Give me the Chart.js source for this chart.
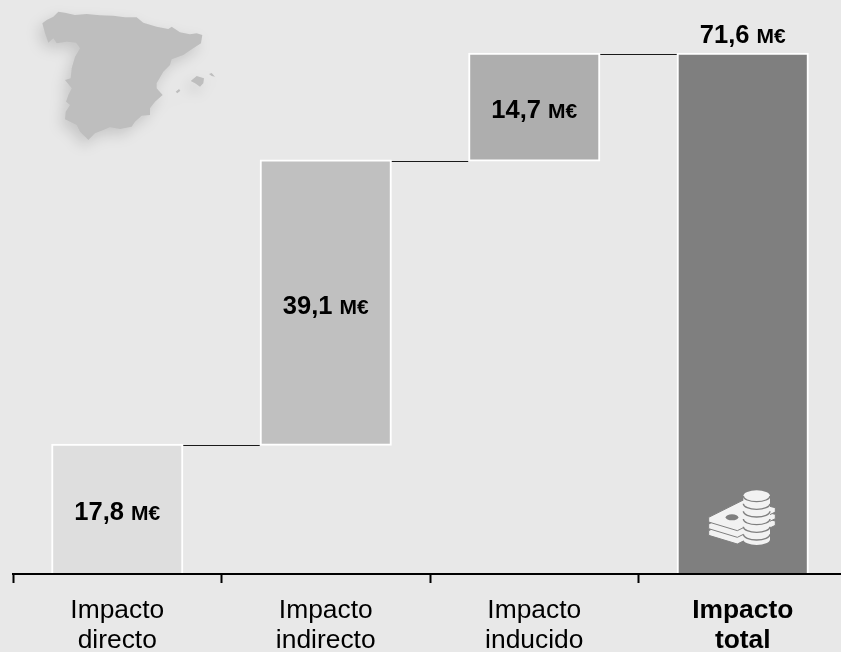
<!DOCTYPE html>
<html lang="es">
<head>
<meta charset="utf-8">
<title>Impacto</title>
<script src="https://cdn.jsdelivr.net/npm/chart.js@4"></script>
<style>
html,body{margin:0;padding:0;background:#e8e8e8;width:841px;height:652px;overflow:hidden}
canvas{display:block}
</style>
</head>
<body>
<canvas id="c" width="860" height="652"></canvas>
<script>
const categories = [["Impacto","directo"],["Impacto","indirecto"],["Impacto","inducido"],["Impacto","total"]];
const barStarts = [0, 17.8, 56.9, 0];
const barEnds = [17.8, 56.9, 71.6, 71.6];
const valueLabels = ["17,8", "39,1", "14,7", "71,6"];
const unitLabel = "M€";
const barColors = ["#dedede", "#c0c0c0", "#aeaeae", "#7f7f7f"];
const FONT = '"Liberation Sans", Arial, sans-serif';

const mapMain = [[127,70],[140,60],[160,50],[175,35],[195,38],[225,45],[260,42],[300,46],[340,47],[375,52],[410,52],[430,68],[470,80],[505,87],[515,80],[540,97],[570,103],[590,100],[607,105],[603,130],[580,145],[550,165],[515,178],[510,195],[490,215],[470,250],[470,265],[488,285],[465,305],[450,325],[450,345],[425,347],[405,365],[395,380],[360,387],[330,382],[310,390],[285,400],[265,420],[240,395],[230,375],[195,358],[197,335],[210,315],[198,305],[205,285],[215,265],[195,240],[212,235],[215,205],[225,170],[240,145],[228,128],[200,125],[170,130],[160,115],[145,128],[135,100]];
const mapIslands = [
  [[572,243],[590,228],[612,235],[610,250],[600,260],[585,250]],
  [[627,222],[635,219],[645,230],[635,228]],
  [[527,275],[537,267],[541,272],[532,280]]
];

function poly(ctx, pts, s){
  ctx.moveTo(pts[0][0]*s, pts[0][1]*s);
  pts.slice(1).forEach(p => ctx.lineTo(p[0]*s, p[1]*s));
  ctx.closePath();
}

function drawMap(ctx){
  ctx.save();
  ctx.filter = 'blur(0.5px)';
  ctx.beginPath();
  poly(ctx, mapMain, 1/3);
  mapIslands.forEach(i => poly(ctx, i, 1/3));
  ctx.shadowColor = 'rgba(0,0,0,0.14)';
  ctx.shadowBlur = 14;
  ctx.shadowOffsetX = -4;
  ctx.shadowOffsetY = 6;
  ctx.fillStyle = '#bebebe';
  ctx.fill();
  ctx.restore();
}

function drawIcon(ctx){
  const fg = '#f2f2f2', bg = '#7f7f7f';
  ctx.save();
  ctx.translate(660, 460);
  ctx.scale(1/3, 1/3);
  [40, 20, 0].forEach(dy => {
    ctx.beginPath();
    ctx.moveTo(146, 172+dy);
    ctx.lineTo(250, 120+dy);
    ctx.lineTo(346, 143+dy);
    ctx.lineTo(346, 156+dy);
    ctx.lineTo(232, 212+dy);
    ctx.lineTo(146, 186+dy);
    ctx.closePath();
    ctx.fillStyle = fg;
    ctx.strokeStyle = bg;
    ctx.lineWidth = 3;
    ctx.fill();
    ctx.stroke();
  });
  ctx.beginPath();
  ctx.ellipse(216, 172, 19, 9, 0, 0, Math.PI*2);
  ctx.fillStyle = bg;
  ctx.fill();
  // coin column: solid body, then dark arcs separating the coins
  ctx.beginPath();
  ctx.moveTo(250, 108);
  ctx.ellipse(290, 108, 40, 17, 0, Math.PI, 0);
  ctx.lineTo(330, 238);
  ctx.ellipse(290, 238, 40, 17, 0, 0, Math.PI);
  ctx.closePath();
  ctx.fillStyle = fg;
  ctx.fill();
  ctx.strokeStyle = bg;
  ctx.lineWidth = 4;
  for (let k = 0; k < 6; k++) {
    ctx.beginPath();
    ctx.ellipse(290, 108 + k*23, 40, 17, 0, 0, Math.PI);
    ctx.stroke();
  }
  ctx.restore();
}

const decorations = {
  id: 'decorations',
  afterDatasetsDraw(chart){
    const {ctx, scales:{y}} = chart;
    const meta = chart.getDatasetMeta(0);
    drawMap(ctx);
    drawIcon(ctx);

    // connectors between bars
    ctx.save();
    ctx.strokeStyle = '#1a1a1a';
    ctx.lineWidth = 1;
    for (let i = 0; i < barEnds.length - 1; i++) {
      const a = meta.data[i], b = meta.data[i+1];
      const py = Math.round(y.getPixelForValue(barEnds[i])) + 0.5;
      ctx.beginPath();
      ctx.moveTo(a.x + a.width/2 + 1, py);
      ctx.lineTo(b.x - b.width/2 - 1, py);
      ctx.stroke();
    }
    ctx.restore();

    // value labels
    ctx.save();
    ctx.fillStyle = '#000';
    ctx.textBaseline = 'alphabetic';
    ctx.textAlign = 'left';
    valueLabels.forEach((t, i) => {
      const bar = meta.data[i];
      const isTotal = i === valueLabels.length - 1;
      const baseY = isTotal
        ? y.getPixelForValue(barEnds[i]) - 11
        : (y.getPixelForValue(barStarts[i]) + y.getPixelForValue(barEnds[i])) / 2 + 11;
      const numFont = 'bold 25.5px ' + FONT;
      const unitFont = 'bold 21px ' + FONT;
      ctx.font = numFont;
      const w1 = ctx.measureText(t).width;
      const gap = 7;
      ctx.font = unitFont;
      const w2 = ctx.measureText(unitLabel).width;
      const sx = bar.x - (w1 + gap + w2) / 2;
      ctx.font = numFont;
      ctx.fillText(t, sx, baseY);
      ctx.font = unitFont;
      ctx.fillText(unitLabel, sx + w1 + gap, baseY);
    });
    ctx.restore();
  }
};

new Chart(document.getElementById('c'), {
  type: 'bar',
  data: {
    labels: categories,
    datasets: [{
      data: barStarts.map((s, i) => [s, barEnds[i]]),
      backgroundColor: barColors,
      borderColor: '#ffffff',
      borderWidth: 2,
      borderSkipped: false,
      inflateAmount: 1,
      barPercentage: 0.624,
      categoryPercentage: 1
    }]
  },
  options: {
    responsive: false,
    animation: false,
    layout: {padding: {left: 13, right: 13, top: 0, bottom: 0}},
    plugins: {legend: {display: false}, tooltip: {enabled: false}, title: {display: false}},
    scales: {
      x: {
        afterFit(s){ s.height = 78; },
        grid: {display: true, drawOnChartArea: false, drawTicks: true, tickLength: 9, tickColor: '#000', tickWidth: 2, offset: true},
        border: {display: true, color: '#000', width: 2, z: 1},
        ticks: {
          color: '#000',
          padding: 13,
          maxRotation: 0,
          autoSkip: false,
          font: ctx => ({family: FONT, size: 26.4, lineHeight: 1.14, weight: ctx.index === categories.length - 1 ? 'bold' : 'normal'})
        }
      },
      y: {display: false, min: 0, max: 79}
    }
  },
  plugins: [decorations]
});
</script>
</body>
</html>
